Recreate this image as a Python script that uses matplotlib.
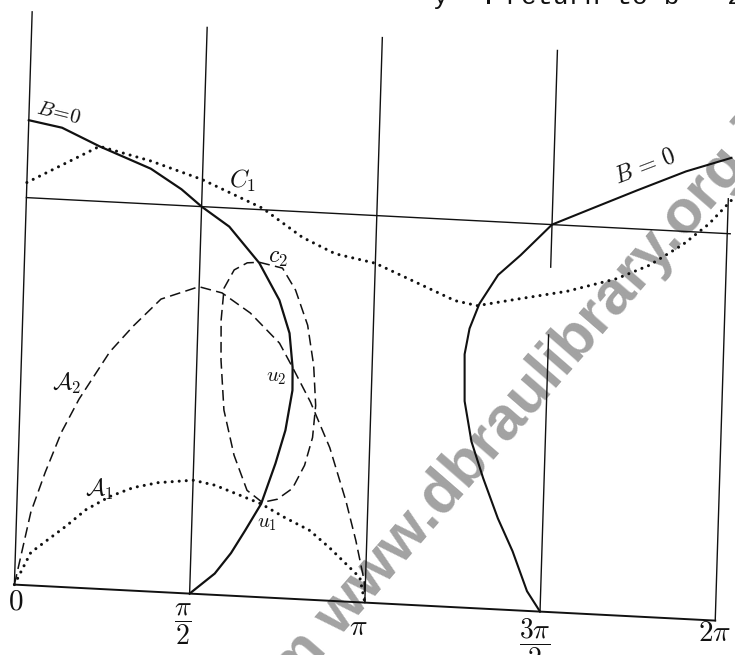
import numpy as np
import matplotlib.pyplot as plt
from matplotlib.transforms import Affine2D

plt.rcParams['mathtext.fontset'] = 'cm'

PI = np.pi

# B = 0, left branch: from the x = 0 line, past u2 and u1, down to pi/2
b0_left_x = [0.0, 0.3, 0.64, 1.106, 1.386, PI / 2, 1.824, 2.103, 2.293, 2.393,
             2.430, 2.435, 2.383, 2.303, 2.186, 2.05, 1.93, 1.79, PI / 2]
b0_left_y = [1.20, 1.185, 1.142, 1.091, 1.042, 1.0, 0.952, 0.862, 0.769, 0.685,
             0.597, 0.538, 0.434, 0.347, 0.241, 0.17, 0.11, 0.055, 0.0]

# B = 0, right branch: from the top right down to 3pi/2
b0_right_x = [6.30, 5.897, 5.46, 5.074, 3 * PI / 2, 4.44, 4.244, 4.084, 4.003,
              3.966, 3.979, 4.051, 4.166, 4.309, 4.450, 4.59, 3 * PI / 2]
b0_right_y = [1.196, 1.155, 1.099, 1.048, 1.0, 0.917, 0.863, 0.786, 0.721,
              0.654, 0.533, 0.430, 0.337, 0.235, 0.152, 0.051, 0.0]

# C1 (dotted)
c1_x = [0.0, 0.641, 1.103, 1.567, 2.116, 2.482, 2.78, 3.14, 3.57, 3.864, 4.067,
        4.436, 4.866, 5.306, 5.595, 5.89, 6.115, 6.31]
c1_y = [1.039, 1.142, 1.111, 1.070, 1.004, 0.934, 0.896, 0.877, 0.826, 0.791,
        0.781, 0.804, 0.830, 0.869, 0.908, 0.966, 1.022, 1.086]

# C2 (dashed closed loop)
c2_x = [2.103, 2.312, 2.435, 2.553, 2.618, 2.647, 2.628, 2.564, 2.462, 2.329,
        2.196, 2.056, 1.93, 1.827, 1.787, 1.777, 1.795, 1.88, 1.995, 2.103]
c2_y = [0.864, 0.852, 0.797, 0.708, 0.605, 0.502, 0.419, 0.346, 0.285, 0.255,
        0.245, 0.274, 0.363, 0.478, 0.607, 0.710, 0.793, 0.841, 0.861, 0.864]

# A2 (dashed)
a2_x = [0.0, 0.127, 0.245, 0.38, 0.527, 0.789, 0.993, 1.233, 1.569, 1.778,
        2.036, 2.306, 2.43, 2.60, 2.785, 2.944, 3.044, 3.13, PI]
a2_y = [0.0, 0.189, 0.294, 0.40, 0.487, 0.613, 0.683, 0.756, 0.793, 0.780,
        0.732, 0.658, 0.597, 0.51, 0.395, 0.26, 0.159, 0.056, 0.0]

# A1 (dotted)
a1_x = [0.0, 0.138, 0.29, 0.443, 0.621, 0.83, 1.037, 1.257, PI / 2, 1.767,
        1.948, 2.186, 2.40, 2.627, 2.81, 2.96, 3.09, PI]
a1_y = [0.0, 0.085, 0.121, 0.157, 0.203, 0.240, 0.266, 0.282, 0.293, 0.283,
        0.265, 0.241, 0.209, 0.179, 0.137, 0.098, 0.064, 0.0]

# guide lines
grid_x = [0.0, PI / 2, PI, 3 * PI / 2, 2 * PI]
grid_top = [1.48, 1.463, 1.46, 1.45, 1.09]
gap_3pi2 = (0.715, 0.89)   # the 3pi/2 line is broken here
level_y = 1.0

tick_labels = [r'$0$', r'$\dfrac{\pi}{2}$', r'$\pi$', r'$\dfrac{3\pi}{2}$', r'$2\pi$']
tick_pos = [(0.02, -0.044), (1.52, -0.08), (3.09, -0.064), (4.675, -0.082), (6.277, -0.031)]

fig = plt.figure(figsize=(7.35, 6.55), dpi=100)
ax = fig.add_axes([0, 0, 1, 1])
ax.set_xlim(0, 735)
ax.set_ylim(655, 0)
ax.axis('off')

# the sheet is drawn slightly askew
sheet = Affine2D.from_values(111.54, 5.73, 12.0, -387.0, 14.4, 584.6) + ax.transData

ink = '#111111'
dotted = dict(color=ink, lw=2.2, linestyle=(0, (0.01, 2.3)), dash_capstyle='round')
dashed = dict(color=ink, lw=1.1, linestyle=(0, (7, 3.5)))

# watermark
ax.text(268, 719, 'om www.dbraulibrary.org.in', rotation=49, rotation_mode='anchor',
        ha='left', va='baseline', fontsize=44, fontweight='bold',
        family='Liberation Sans', color='#a2a2a2', zorder=0)

ax.plot([0, 2 * PI], [0, 0], color=ink, lw=1.4, transform=sheet)
ax.plot([0, 6.31], [level_y, level_y], color=ink, lw=1.0, transform=sheet)
for gx, top in zip(grid_x, grid_top):
    if gx == 3 * PI / 2:
        ax.plot([gx, gx], [0, gap_3pi2[0]], color=ink, lw=1.0, transform=sheet)
        ax.plot([gx, gx], [gap_3pi2[1], top], color=ink, lw=1.0, transform=sheet)
    else:
        ax.plot([gx, gx], [0, top], color=ink, lw=1.0, transform=sheet)

ax.plot(b0_left_x, b0_left_y, color=ink, lw=1.6, transform=sheet)
ax.plot(b0_right_x, b0_right_y, color=ink, lw=1.5, transform=sheet)
ax.plot(c1_x, c1_y, transform=sheet, **dotted)
ax.plot(a1_x, a1_y, transform=sheet, **dotted)
ax.plot(c2_x, c2_y, transform=sheet, **dashed)
ax.plot(a2_x, a2_y, transform=sheet, **dashed)

for lab, (tx, ty) in zip(tick_labels, tick_pos):
    ax.text(tx, ty, lab, transform=sheet, ha='center', va='center',
            fontsize=20 if 'frac' in lab else 21, color=ink)

hand = dict(transform=sheet, ha='center', va='center', color=ink)
ax.text(0.265, 1.224, r'$B\!=\!0$', fontsize=15, rotation=-14, **hand)
ax.text(5.523, 1.164, r'$B\,=\,0$', fontsize=17, rotation=21, **hand)
ax.text(1.928, 1.072, r'$C_1$', fontsize=18, **hand)
ax.text(2.264, 0.879, r'$c_2$', fontsize=17, **hand)
ax.text(0.412, 0.525, r'$\mathcal{A}_2$', fontsize=17, **hand)
ax.text(0.735, 0.256, r'$\mathcal{A}_1$', fontsize=17, **hand)
ax.text(2.287, 0.570, r'$u_2$', fontsize=15, **hand)
ax.text(2.246, 0.192, r'$u_1$', fontsize=15, **hand)

# running text from the page above, cut by the edge
fig.text(433 / 735, 1 - 4 / 655, 'y  .', family='Liberation Mono', fontsize=19,
         ha='left', va='baseline', color=ink)
fig.text(505 / 735, 1 - 4 / 655, 'return to b = 2', family='Liberation Mono',
         fontsize=19, ha='left', va='baseline', color=ink)

fig.savefig('out.png', dpi=100, facecolor='white')
